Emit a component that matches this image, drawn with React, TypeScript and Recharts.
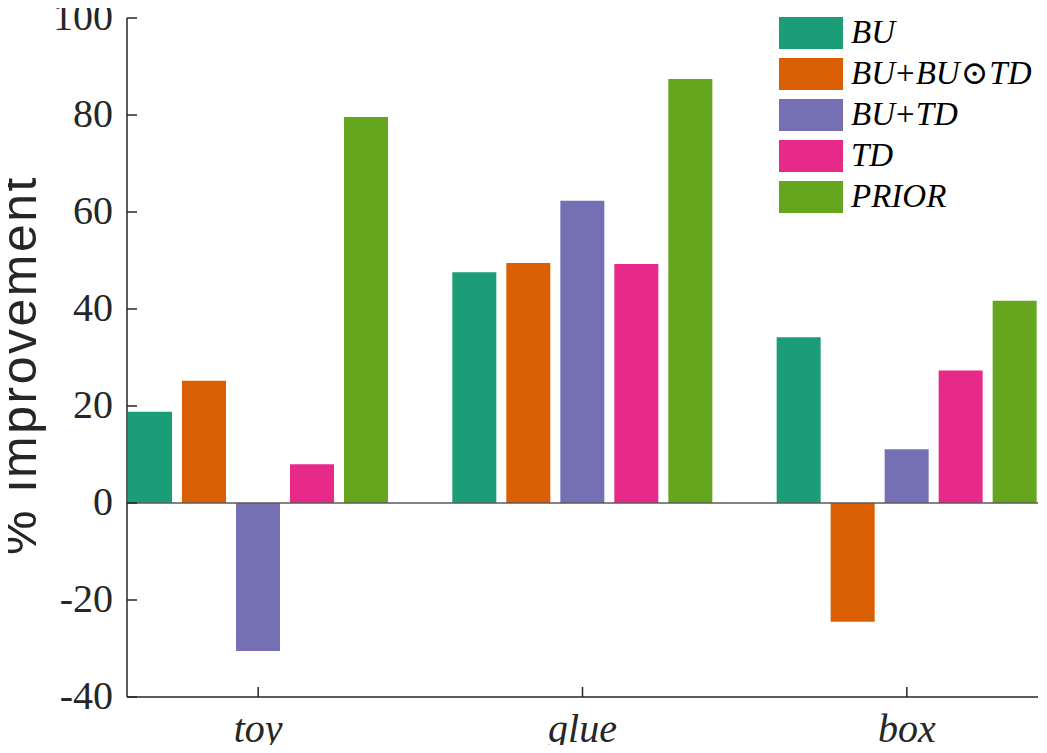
import React from 'react';
import { BarChart, Bar, XAxis, YAxis, ReferenceLine } from 'recharts';

const categories = ['toy', 'glue', 'box'];
const seriesNames = ['BU', 'BU+BU⊙TD', 'BU+TD', 'TD', 'PRIOR'];
const buValues = [18.8, 47.6, 34.2];
const buBuTdValues = [25.2, 49.5, -24.5];
const buTdValues = [-30.5, 62.3, 11.1];
const tdValues = [8.0, 49.3, 27.3];
const priorValues = [79.6, 87.4, 41.7];
const yTicks = [-40, -20, 0, 20, 40, 60, 80, 100];

const colors = ['#1b9e77', '#d95f02', '#7570b3', '#e7298a', '#66a61e'];
const keys = ['bu', 'buBuTd', 'buTd', 'td', 'prior'];
const serif = '"Liberation Serif", "DejaVu Serif", serif';
const textColor = '#262626';

const data = categories.map((c, i) => ({
  name: c,
  bu: buValues[i],
  buBuTd: buBuTdValues[i],
  buTd: buTdValues[i],
  td: tdValues[i],
  prior: priorValues[i],
}));

// italic letters, upright operators (LaTeX math look)
const MathLabel = ({ text }: { text: string }) => {
  const parts = text.split(/([+⊙])/);
  return (
    <span style={{ whiteSpace: 'nowrap' }}>
      {parts.map((p, i) =>
        p === '+' || p === '⊙' ? (
          <span key={i} style={{ fontStyle: 'normal', margin: '0 1px' }}>{p}</span>
        ) : (
          <span key={i} style={{ fontStyle: 'italic' }}>{p}</span>
        )
      )}
    </span>
  );
};

const LegendBox = () => (
  <div style={{ position: 'absolute', left: 779, top: 12, fontFamily: serif, fontSize: 33, color: '#000', lineHeight: 1 }}>
    {seriesNames.map((n, i) => (
      <div key={n} style={{ display: 'flex', alignItems: 'center', height: 41 }}>
        <div style={{ width: 64, height: 32, background: colors[i], marginRight: 8, flexShrink: 0 }} />
        <MathLabel text={n} />
      </div>
    ))}
  </div>
);

const YTick = (props: any) => {
  const { x, y, payload } = props;
  return (
    <g>
      <line x1={x} x2={x + 10} y1={y} y2={y} stroke={textColor} strokeWidth={1.5} />
      <text x={x - 14} y={y} dy={12} textAnchor="end" fontFamily={serif} fontSize={40} fill={textColor}>
        {payload.value}
      </text>
    </g>
  );
};

const XTick = (props: any) => {
  const { x, y, payload } = props;
  return (
    <g>
      <line x1={x} x2={x} y1={y} y2={y - 10} stroke={textColor} strokeWidth={1.5} />
      <text x={x} y={y + 45} textAnchor="middle" fontFamily={serif} fontStyle="italic" fontSize={40} fill={textColor}>
        {payload.value}
      </text>
    </g>
  );
};

const YLabel = () => (
  <text
    x={36}
    y={365}
    transform="rotate(-90, 36, 365)"
    textAnchor="middle"
    fontFamily='"Liberation Sans", Arial, sans-serif'
    fontSize={50}
    letterSpacing={2.5}
    fill={textColor}
  >
    % improvement
  </text>
);

export default function App() {
  return (
    <div style={{ position: 'relative', margin: -8, width: 1047, height: 753, background: '#fff', overflow: 'hidden' }}>
      <BarChart
        width={1047}
        height={753}
        data={data}
        margin={{ top: 18, right: 9, bottom: 0, left: 0 }}
        barCategoryGap={32}
        barGap={10}
      >
        <XAxis
          dataKey="name"
          height={56}
          padding={{ left: -31, right: -31 }}
          tickSize={0}
          tickMargin={0}
          tick={<XTick />}
          axisLine={{ stroke: textColor, strokeWidth: 1.5 }}
          interval={0}
        />
        <YAxis
          width={127}
          domain={[-40, 100]}
          ticks={yTicks}
          tickSize={0}
          tickMargin={0}
          tick={<YTick />}
          axisLine={{ stroke: textColor, strokeWidth: 1.5 }}
          interval={0}
          label={{ content: () => <YLabel /> }}
        />
        {keys.map((k, i) => (
          <Bar key={k} dataKey={k} name={seriesNames[i]} fill={colors[i]} isAnimationActive={false} />
        ))}
        <ReferenceLine y={0} stroke="#5a5a5a" strokeWidth={1.5} />
      </BarChart>
      <LegendBox />
    </div>
  );
}
